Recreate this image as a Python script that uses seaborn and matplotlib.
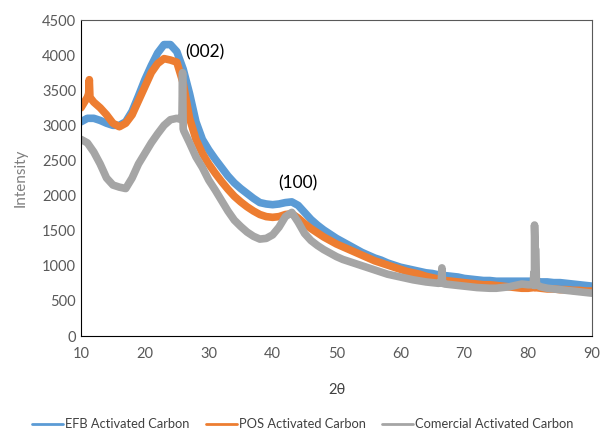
import numpy as np
import pandas as pd
import seaborn as sns
import matplotlib.pyplot as plt

# 2-theta grid (1 degree steps)
two_theta = list(range(10, 91))

efb = [3050, 3100, 3100, 3070, 3030, 3000, 3000, 3050, 3200, 3420,
       3650, 3850, 4030, 4150, 4150, 4050, 3800, 3450, 3050, 2800,
       2650, 2520, 2400, 2280, 2180, 2100, 2030, 1960, 1900, 1880,
       1870, 1880, 1900, 1910, 1860, 1760, 1660, 1580, 1510, 1450,
       1390, 1340, 1290, 1240, 1190, 1150, 1110, 1080, 1040, 1010,
       980, 960, 940, 920, 900, 890, 870, 860, 850, 840,
       820, 810, 800, 790, 790, 780, 780, 780, 780, 780,
       780, 780, 770, 770, 760, 760, 750, 740, 730, 720,
       710]

pos = [3250, 3400, 3330, 3250, 3150, 3030, 2980, 3030, 3150, 3350,
       3550, 3750, 3880, 3950, 3930, 3900, 3600, 3100, 2800, 2600,
       2450, 2320, 2200, 2090, 1990, 1910, 1840, 1780, 1730, 1700,
       1690, 1700, 1730, 1740, 1680, 1600, 1530, 1470, 1410, 1360,
       1310, 1270, 1230, 1190, 1150, 1110, 1070, 1040, 1010, 980,
       950, 920, 900, 880, 850, 830, 810, 790, 780, 770,
       760, 750, 740, 730, 730, 720, 710, 700, 690, 680,
       680, 690, 680, 670, 670, 660, 660, 650, 650, 640,
       640]

comercial = [2800, 2750, 2620, 2450, 2250, 2150, 2120, 2100, 2250, 2450,
             2600, 2750, 2880, 3000, 3080, 3100, 2950, 2750, 2550, 2400,
             2220, 2080, 1930, 1780, 1650, 1560, 1480, 1420, 1380, 1390,
             1440, 1550, 1700, 1760, 1620, 1460, 1360, 1290, 1230, 1180,
             1130, 1090, 1060, 1030, 1000, 970, 940, 910, 880, 860,
             840, 820, 800, 785, 770, 760, 750, 740, 730, 720,
             710, 700, 690, 685, 680, 680, 690, 700, 720, 740,
             730, 720, 700, 680, 670, 660, 650, 640, 630, 620,
             610]

# sharp peaks between grid points
pos_spike_x = [11.2, 11.3, 11.4, 80.9, 81.0, 81.1]
pos_spike_y = [3450, 3650, 3400, 690, 760, 690]
com_spike_x = [25.8, 25.9, 26.1, 66.4, 66.5, 66.6, 80.8, 80.9, 81.0, 81.1, 81.2, 81.3]
com_spike_y = [3080, 3750, 2920, 760, 970, 750, 730, 900, 1580, 1250, 1230, 730]

labels = ["EFB Activated Carbon", "POS Activated Carbon", "Comercial Activated Carbon"]
colors = ["#5B9BD5", "#ED7D31", "#A5A5A5"]

frames = [
    pd.DataFrame({"x": two_theta, "y": efb, "s": labels[0]}),
    pd.DataFrame({"x": two_theta + pos_spike_x, "y": pos + pos_spike_y, "s": labels[1]}),
    pd.DataFrame({"x": two_theta + com_spike_x, "y": comercial + com_spike_y, "s": labels[2]}),
]
df = pd.concat(frames, ignore_index=True)

sns.set_style("white")
plt.rcParams["font.family"] = ["Lato", "DejaVu Sans"]

fig = plt.figure(figsize=(6.04, 4.32), dpi=100)
ax = fig.add_axes([81 / 604, 1 - 336 / 432, 511 / 604, 316 / 432])

sns.lineplot(data=df, x="x", y="y", hue="s", hue_order=labels,
             palette=dict(zip(labels, colors)), estimator=None,
             linewidth=5.5, ax=ax)

ax.set_xlim(10, 90)
ax.set_ylim(0, 4500)
ax.set_xticks(range(10, 91, 10))
ax.set_yticks(range(0, 4501, 500))
ax.tick_params(direction="in", length=5, width=1, colors="black",
               labelcolor="#595959", labelsize=10.5)
ax.tick_params(axis="x", pad=8)
for side in ["left", "bottom"]:
    ax.spines[side].set_color("black")
for side in ["top", "right"]:
    ax.spines[side].set_color("#595959")

ax.set_xlabel("2θ", fontsize=10.5, color="#404040", labelpad=16)
ax.set_ylabel("Intensity", fontsize=11, color="#808080", labelpad=10)

ax.text(29.4, 4045, "(002)", fontsize=12.5, ha="center", va="center", color="black")
ax.text(43.9, 2180, "(100)", fontsize=12.5, ha="center", va="center", color="black")

leg = ax.legend(loc="center", bbox_to_anchor=(0.434, -0.28), ncol=3, frameon=False,
                fontsize=9.3, handlelength=2.4, columnspacing=1.3, handletextpad=0.15)
for line in leg.get_lines():
    line.set_linewidth(2)
for t in leg.get_texts():
    t.set_color("#404040")

fig.savefig("out.png", dpi=100)
